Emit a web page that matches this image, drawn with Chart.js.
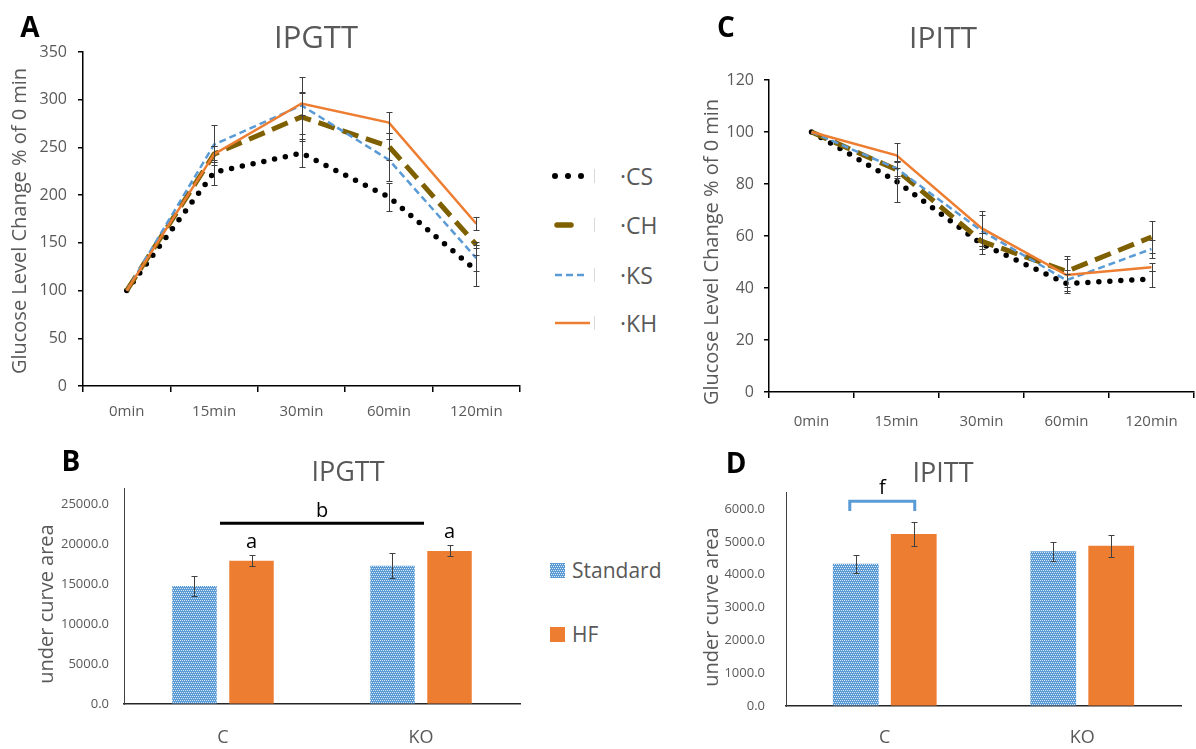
<!DOCTYPE html>
<html><head><meta charset="utf-8">
<script src="https://cdn.jsdelivr.net/npm/chart.js@4"></script>
<style>
html,body{margin:0;padding:0;background:#fff;}
body{width:1196px;height:749px;position:relative;overflow:hidden;font-family:"Open Sans",sans-serif;}
canvas{position:absolute;}
.t{position:absolute;transform:translate(-50%,-50%);white-space:nowrap;color:#595959;line-height:1;}
.letter{font-weight:700;color:#000;font-size:28px;}
.yt{font-size:20px;transform:translate(-50%,-50%) rotate(-90deg);}
.lg{position:absolute;transform:translateY(-50%);white-space:nowrap;color:#595959;line-height:1;}
svg{position:absolute;}
</style>
</head><body>

<canvas id="cA" width="540" height="430" style="left:0;top:0"></canvas>
<canvas id="cC" width="516" height="440" style="left:680px;top:0"></canvas>
<canvas id="cB" width="540" height="309" style="left:0;top:440px"></canvas>
<canvas id="cD" width="516" height="309" style="left:680px;top:440px"></canvas>

<div class="t letter" style="left:30px;top:26px">A</div>
<div class="t" style="left:316px;top:36px;font-size:31px">IPGTT</div>
<div class="t yt" style="left:19px;top:221px">Glucose Level Change % of 0 min</div>

<div class="t letter" style="left:726px;top:26px">C</div>
<div class="t" style="left:943px;top:37px;font-size:30px">IPITT</div>
<div class="t yt" style="left:711px;top:252px">Glucose Level Change % of 0 min</div>

<div class="t letter" style="left:71px;top:460px">B</div>
<div class="t" style="left:348px;top:470px;font-size:27px">IPGTT</div>
<div class="t yt" style="left:46px;top:604px">under curve area</div>

<div class="t letter" style="left:736px;top:462px">D</div>
<div class="t" style="left:943px;top:471px;font-size:27px">IPITT</div>
<div class="t yt" style="left:711px;top:607px">under curve area</div>

<!-- line legend -->
<svg width="80" height="200" style="left:540px;top:150px">
  <g fill="#000"><circle cx="15" cy="26" r="3"/><circle cx="28" cy="26" r="3"/><circle cx="41" cy="26" r="3"/></g>
  <line x1="17" y1="75" x2="31" y2="75" stroke="#7f6000" stroke-width="5.5" stroke-linecap="round"/>
  <line x1="15" y1="125" x2="45" y2="125" stroke="#5b9bd5" stroke-width="2.5" stroke-dasharray="7,4"/>
  <line x1="15" y1="173" x2="50" y2="173" stroke="#ed7d31" stroke-width="2.5"/>
  <g stroke="#d9d9d9" stroke-width="1">
    <line x1="54.5" y1="19" x2="54.5" y2="33"/><line x1="54.5" y1="68" x2="54.5" y2="82"/>
    <line x1="54.5" y1="118" x2="54.5" y2="132"/><line x1="54.5" y1="166" x2="54.5" y2="180"/>
  </g>
</svg>
<div id="lgLines"></div>

<!-- bar legend -->
<svg width="20" height="90" style="left:550px;top:560px">
  <defs><pattern id="dots" width="4" height="4" patternUnits="userSpaceOnUse">
    <rect width="4" height="4" fill="#5b9bd5"/>
    <rect x="0" y="0" width="1" height="1" fill="#dbe8f6"/><rect x="2" y="0" width="1" height="1" fill="#dbe8f6"/>
    <rect x="1" y="2" width="1" height="1" fill="#dbe8f6"/><rect x="3" y="2" width="1" height="1" fill="#dbe8f6"/>
  </pattern></defs>
  <rect x="0" y="3" width="15" height="15" fill="url(#dots)"/>
  <rect x="0" y="67" width="15" height="15" fill="#ed7d31"/>
</svg>
<div id="lgBars"></div>

<script>
// ---------- data ----------
const timeLabels = ['0min','15min','30min','60min','120min'];
const seriesNames = ['CS','CH','KS','KH'];

const gttCS = [100, 224, 244, 198, 121];
const gttCH = [100, 243, 282, 251, 148];
const gttKS = [100, 253, 294, 237, 134];
const gttKH = [100, 243, 296, 276, 170];
const gttCSErr = [0, 13, 15, 15, 16];
const gttCHErr = [0, 8, 25, 14, 3];
const gttKSErr = [0, 21, 30, 22, 14];
const gttKHErr = [0, 8, 12, 11, 7];

const ittCS = [100, 81, 57, 41.7, 43.5];
const ittCH = [100, 85.5, 58, 46.4, 59.6];
const ittKS = [100, 86, 62, 43, 55];
const ittKH = [100, 91, 63, 45, 48];
const ittCSErr = [0, 8, 4, 3.5, 3];
const ittCHErr = [0, 3, 3, 6, 6];
const ittKSErr = [0, 3, 6, 4, 3.5];
const ittKHErr = [0, 4.7, 6.7, 6, 1.5];

const groups = ['C', 'KO'];
const dietNames = ['Standard', 'HF'];
const aucGttStd = [14750, 17290];
const aucGttHF = [17920, 19130];
const aucGttStdErr = [1190, 1600];
const aucGttHFErr = [700, 690];
const aucIttStd = [4330, 4710];
const aucIttHF = [5240, 4880];
const aucIttStdErr = [275, 290];
const aucIttHFErr = [356, 340];

const gttSigLetters = ['a', 'a'];
const gttSigLine = 'b';
const ittSigLetter = 'f';

const gttTicks = {min: 0, max: 350, step: 50};
const ittTicks = {min: 0, max: 120, step: 20};
const aucGttTicks = {min: 0, max: 27000, step: 5000};
const aucIttTicks = {min: 0, max: 6500, step: 1000};

// ---------- legends (html text) ----------
const rowsY = [176, 225, 275, 323];
document.getElementById('lgLines').innerHTML = seriesNames.map((n,i)=>
  `<div class="lg" style="left:620px;top:${rowsY[i]}px;font-size:23px">·${n}</div>`).join('');
const barRowsY = [570, 634];
document.getElementById('lgBars').innerHTML = dietNames.map((n,i)=>
  `<div class="lg" style="left:572px;top:${barRowsY[i]}px;font-size:21px">${n}</div>`).join('');

// ---------- helpers ----------
const FONT = '"Open Sans", sans-serif';
Chart.defaults.font.family = FONT;
const GRAY = '#595959';

function makePattern(){
  const c = document.createElement('canvas'); c.width = 4; c.height = 4;
  const g = c.getContext('2d');
  g.fillStyle = '#5b9bd5'; g.fillRect(0,0,4,4);
  g.fillStyle = '#dbe8f6';
  [[0,0],[2,0],[1,2],[3,2]].forEach(p=>g.fillRect(p[0],p[1],1,1));
  return g.createPattern(c, 'repeat');
}
const stdPattern = makePattern();

function fixFit(w, h){
  return function(s){
    if (w !== null) s.width = w;
    if (h !== null) s.height = h;
    s.paddingTop = 0; s.paddingBottom = 0; s.paddingLeft = 0; s.paddingRight = 0;
  };
}
function fixedTicks(tk){
  return function(s){
    const t = [];
    for (let v = tk.min; v <= tk.max + 1e-9; v += tk.step) t.push({value: v});
    s.ticks = t;
  };
}

const errorBars = {
  id: 'errorBars',
  afterDatasetsDraw(chart, args, opts){
    const ctx = chart.ctx, ys = chart.scales.y;
    chart.data.datasets.forEach((ds, i) => {
      if (!ds.errors) return;
      const meta = chart.getDatasetMeta(i);
      meta.data.forEach((el, j) => {
        const e = ds.errors[j]; if (!e) return;
        const v = ds.data[j];
        const x = Math.round(el.x) + 0.5;
        const yt = Math.round(ys.getPixelForValue(v + e)) + 0.5;
        const yb = Math.round(ys.getPixelForValue(v - e)) + 0.5;
        ctx.save();
        ctx.strokeStyle = opts.color || '#404040';
        ctx.lineWidth = 1;
        ctx.setLineDash([]);
        ctx.beginPath();
        ctx.moveTo(x, yt); ctx.lineTo(x, yb);
        ctx.moveTo(x - opts.cap, yt); ctx.lineTo(x + opts.cap, yt);
        ctx.moveTo(x - opts.cap, yb); ctx.lineTo(x + opts.cap, yb);
        ctx.stroke();
        ctx.restore();
      });
    });
  }
};

const lineStyles = [
  {borderColor:'#000000', borderWidth:5.5, borderDash:[0,11], borderCapStyle:'round', order:3},
  {borderColor:'#7f6000', borderWidth:5, borderDash:[17,8], borderCapStyle:'butt', order:2},
  {borderColor:'#5b9bd5', borderWidth:2.5, borderDash:[7,4], borderCapStyle:'butt', order:1},
  {borderColor:'#ed7d31', borderWidth:2.5, borderDash:[], borderCapStyle:'butt', order:0}
];

function lineChart(id, vals, errs, tk, L){
  new Chart(document.getElementById(id), {
    type: 'line',
    data: {
      labels: timeLabels,
      datasets: vals.map((v,i)=>Object.assign({label: seriesNames[i], data: v, errors: errs[i], fill:false, pointRadius:0, tension:0}, lineStyles[i]))
    },
    options: {
      responsive: false, animation: false,
      layout: {padding: L.pad},
      plugins: {legend:{display:false}, tooltip:{enabled:false}, errorBars:{cap:3, color:'#3f3f3f'}},
      scales: {
        x: {
          offset: true,
          grid: {offset: true, drawOnChartArea: false, drawTicks: true, tickLength: 6, color: '#000', lineWidth: 1.5},
          border: {color: '#000', width: 1.5},
          ticks: {color: GRAY, font: {size: 15}, padding: L.xpad, maxRotation: 0, autoSkip: false},
          afterFit: fixFit(null, L.xh)
        },
        y: {
          min: tk.min, max: tk.max,
          grid: {drawOnChartArea: false, drawTicks: true, tickLength: 5, color: '#000', lineWidth: 1.5},
          border: {color: '#000', width: 1.5},
          ticks: {color: GRAY, font: {size: 16}, padding: L.ypad},
          afterBuildTicks: fixedTicks(tk),
          afterFit: fixFit(L.yw, null)
        }
      }
    },
    plugins: [errorBars]
  });
}

lineChart('cA', [gttCS, gttCH, gttKS, gttKH], [gttCSErr, gttCHErr, gttKSErr, gttKHErr], gttTicks,
  {pad:{left:23, right:20, top:52, bottom:8}, yw:60, xh:36, ypad:11, xpad:11});
lineChart('cC', [ittCS, ittCH, ittKS, ittKH], [ittCSErr, ittCHErr, ittKSErr, ittKHErr], ittTicks,
  {pad:{left:19, right:2, top:80, bottom:8}, yw:70, xh:40, ypad:10, xpad:15});

// annotations
const gttAnnot = {
  id: 'gttAnnot',
  afterDatasetsDraw(chart){
    const ctx = chart.ctx, xs = chart.scales.x, ys = chart.scales.y;
    const x0 = xs.getPixelForValue(0) - 3, x1 = xs.getPixelForValue(1) + 3;
    const yl = ys.getPixelForValue(22600);
    ctx.save();
    ctx.strokeStyle = '#000'; ctx.lineWidth = 3;
    ctx.beginPath(); ctx.moveTo(x0, yl); ctx.lineTo(x1, yl); ctx.stroke();
    ctx.fillStyle = '#000'; ctx.font = '20px ' + FONT; ctx.textAlign = 'center'; ctx.textBaseline = 'alphabetic';
    ctx.fillText(gttSigLine, (x0 + x1) / 2, yl - 6);
    const meta = chart.getDatasetMeta(1);
    meta.data.forEach((el, j) => {
      const top = ys.getPixelForValue(aucGttHF[j] + aucGttHFErr[j]);
      ctx.fillText(gttSigLetters[j], el.x, top - 7);
    });
    ctx.restore();
  }
};
const ittAnnot = {
  id: 'ittAnnot',
  afterDatasetsDraw(chart){
    const ctx = chart.ctx, ys = chart.scales.y;
    const a = chart.getDatasetMeta(0).data[0], b = chart.getDatasetMeta(1).data[0];
    const yt = ys.getPixelForValue(6240), yb = ys.getPixelForValue(5940);
    const xa = a.x - 6, xb = b.x + 1;
    ctx.save();
    ctx.strokeStyle = '#5b9bd5'; ctx.lineWidth = 3; ctx.lineJoin = 'miter';
    ctx.beginPath(); ctx.moveTo(xa, yb); ctx.lineTo(xa, yt); ctx.lineTo(xb, yt); ctx.lineTo(xb, yb); ctx.stroke();
    ctx.fillStyle = '#000'; ctx.font = '20px ' + FONT; ctx.textAlign = 'center'; ctx.textBaseline = 'alphabetic';
    ctx.fillText(ittSigLetter, (xa + xb) / 2, yt - 7);
    ctx.restore();
  }
};

function barChart(id, std, hf, stdErr, hfErr, tk, L, annot){
  const common = {categoryPercentage: L.cp, barPercentage: L.bp, borderWidth: 0};
  new Chart(document.getElementById(id), {
    type: 'bar',
    data: {
      labels: groups,
      datasets: [
        Object.assign({label: dietNames[0], data: std, errors: stdErr, backgroundColor: stdPattern}, common),
        Object.assign({label: dietNames[1], data: hf, errors: hfErr, backgroundColor: '#ed7d31'}, common)
      ]
    },
    options: {
      responsive: false, animation: false,
      layout: {padding: L.pad},
      plugins: {legend:{display:false}, tooltip:{enabled:false}, errorBars:{cap:3, color:'#404040'}},
      scales: {
        x: {
          grid: {display: true, drawOnChartArea: false, drawTicks: false},
          border: {color: '#262626', width: 1.5},
          ticks: {color: GRAY, font: {size: 18}, padding: L.xpad, maxRotation: 0},
          afterFit: fixFit(null, L.xh)
        },
        y: {
          min: tk.min, max: tk.max,
          grid: {display: true, drawOnChartArea: false, drawTicks: false},
          border: {color: '#404040', width: 1},
          ticks: {color: GRAY, font: {size: 13}, padding: L.ypad,
                  callback: v => Number(v).toFixed(1)},
          afterBuildTicks: fixedTicks(tk),
          afterFit: fixFit(L.yw, null)
        }
      }
    },
    plugins: [errorBars, annot]
  });
}

barChart('cB', aucGttStd, aucGttHF, aucGttStdErr, aucGttHFErr, aucGttTicks,
  {pad:{left:24, right:20, top:48, bottom:5}, yw:100, xh:40, ypad:15, xpad:23, cp:0.576, bp:0.78}, gttAnnot);
barChart('cD', aucIttStd, aucIttHF, aucIttStdErr, aucIttHFErr, aucIttTicks,
  {pad:{left:6, right:15, top:52.6, bottom:3}, yw:100, xh:40, ypad:21, xpad:21, cp:0.587, bp:0.79}, ittAnnot);
</script>
</body></html>
